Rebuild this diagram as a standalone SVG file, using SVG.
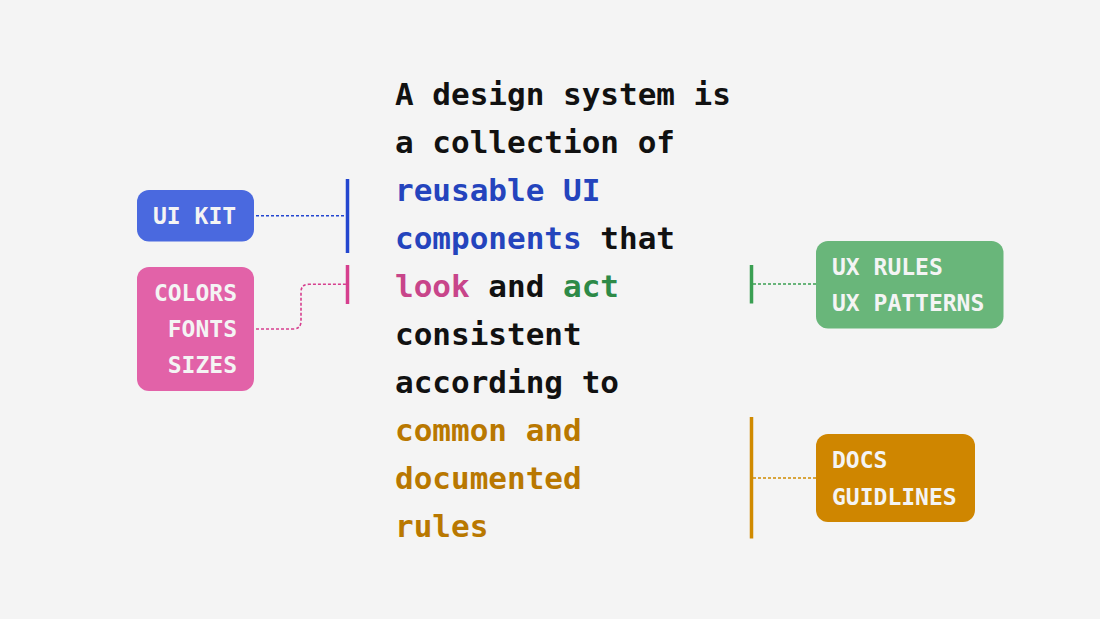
<svg xmlns="http://www.w3.org/2000/svg" width="1100" height="619" viewBox="0 0 1100 619">
<style>
.main{font-family:"DejaVu Sans Mono","Liberation Mono",monospace;font-weight:bold;font-size:31px;fill:#111}
.lbl{font-family:"DejaVu Sans Mono","Liberation Mono",monospace;font-weight:bold;font-size:23px;fill:#f4f4f4}
.dot{fill:none;stroke-width:1.6;stroke-dasharray:3 2}
.bar{stroke-width:3.5}
.b{fill:#2444bd}.p{fill:#c8458a}.g{fill:#2e8a47}.o{fill:#b97800}
</style>
<rect width="1100" height="619" fill="#f4f4f4"/>
<g id="text">
<text class="main" x="395" y="105">A design system is</text>
<text class="main" x="395" y="153">a collection of</text>
<text class="main" x="395" y="201"><tspan class="b">reusable UI</tspan></text>
<text class="main" x="395" y="249"><tspan class="b">components</tspan> that</text>
<text class="main" x="395" y="297"><tspan class="p">look</tspan> and <tspan class="g">act</tspan></text>
<text class="main" x="395" y="345">consistent</text>
<text class="main" x="395" y="393">according to</text>
<text class="main" x="395" y="441"><tspan class="o">common and</tspan></text>
<text class="main" x="395" y="489"><tspan class="o">documented</tspan></text>
<text class="main" x="395" y="537"><tspan class="o">rules</tspan></text>
</g>
<g id="uikit">
<rect x="137" y="190" width="117" height="51.5" rx="12" fill="#4a69df"/>
<text class="lbl" x="153" y="224">UI KIT</text>
</g>
<g id="colors">
<rect x="137" y="267" width="117" height="124" rx="12" fill="#e262a8"/>
<text class="lbl" x="237" y="301" text-anchor="end">COLORS</text>
<text class="lbl" x="237" y="337" text-anchor="end">FONTS</text>
<text class="lbl" x="237" y="373" text-anchor="end">SIZES</text>
</g>
<g id="uxrules">
<rect x="816" y="241" width="187.5" height="87.5" rx="12" fill="#69b67a"/>
<text class="lbl" x="832" y="275">UX RULES</text>
<text class="lbl" x="832" y="311">UX PATTERNS</text>
</g>
<g id="docs">
<rect x="816" y="434" width="159" height="88" rx="12" fill="#cf8600"/>
<text class="lbl" x="832" y="468">DOCS</text>
<text class="lbl" x="832" y="505">GUIDLINES</text>
</g>
<g id="connectors">
<line class="bar" x1="347.5" y1="179" x2="347.5" y2="253" stroke="#2346cf"/>
<path class="dot" d="M256 215.7H346" stroke="#2346cf"/>
<line class="bar" x1="347.5" y1="265" x2="347.5" y2="304" stroke="#d63f8e"/>
<path class="dot" d="M256 329H293Q301 329 301 321V292Q301 284.3 309 284.3H346" stroke="#d63f8e"/>
<line class="bar" x1="751.5" y1="265" x2="751.5" y2="303.5" stroke="#3a9f52"/>
<path class="dot" d="M753 284H816" stroke="#3a9f52"/>
<line class="bar" x1="751.5" y1="417" x2="751.5" y2="538.5" stroke="#d08a00"/>
<path class="dot" d="M753 478H816" stroke="#d08a00"/>
</g>
</svg>
